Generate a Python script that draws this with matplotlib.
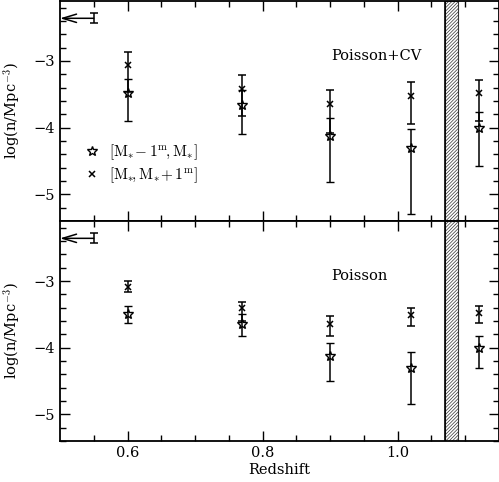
import numpy as np
import matplotlib
matplotlib.use('Agg')
import matplotlib.pyplot as plt
from matplotlib.lines import Line2D

plt.rcParams['font.family'] = 'DejaVu Serif'
plt.rcParams['mathtext.fontset'] = 'cm'
plt.rcParams['hatch.linewidth'] = 0.5

z = [0.6, 0.77, 0.9, 1.02, 1.12]

# top panel: Poisson + cosmic variance
cv_star = [-3.48, -3.66, -4.12, -4.30, -4.00]
cv_star_hi = [-3.27, -3.43, -3.86, -4.02, -3.76]
cv_star_lo = [-3.90, -4.09, -4.81, -5.29, -4.58]
cv_x = [-3.06, -3.42, -3.64, -3.52, -3.48]
cv_x_hi = [-2.86, -3.21, -3.43, -3.31, -3.28]
cv_x_lo = [-3.47, -3.83, -4.08, -3.94, -3.90]

# bottom panel: Poisson only
p_star = [-3.49, -3.65, -4.13, -4.31, -4.00]
p_star_hi = [-3.38, -3.50, -3.93, -4.07, -3.83]
p_star_lo = [-3.63, -3.83, -4.50, -4.84, -4.31]
p_x = [-3.09, -3.41, -3.64, -3.51, -3.48]
p_x_hi = [-3.00, -3.32, -3.52, -3.41, -3.38]
p_x_lo = [-3.16, -3.60, -3.83, -3.68, -3.63]

# reference bar with arrow at top left
ref_z = 0.55
ref_y = -2.36
ref_err = 0.075

band = (1.07, 1.09)

fig = plt.figure(figsize=(4.99, 4.82), dpi=100)
ax1 = fig.add_axes([0.1202, 0.5415, 0.8798, 0.4565])
ax2 = fig.add_axes([0.1202, 0.085, 0.8798, 0.4565])


def panel(ax, sv, shi, slo, xv, xhi, xlo, label):
    sv, shi, slo = np.array(sv), np.array(shi), np.array(slo)
    xv, xhi, xlo = np.array(xv), np.array(xhi), np.array(xlo)
    ax.axvspan(band[0], band[1], facecolor='white', edgecolor='#333333',
               hatch='//////////', lw=0.8, zorder=1)
    ax.axvline(band[0], color='black', lw=1.2, zorder=1)
    ax.errorbar(z, xv, yerr=[xv - xlo, xhi - xv], fmt='x', color='black',
                ms=5, mew=1.1, elinewidth=1.1, capsize=3, capthick=1.1, zorder=3)
    ax.errorbar(z, sv, yerr=[sv - slo, shi - sv], fmt='*', color='black',
                mfc='none', ms=7.5, mew=1.0, elinewidth=1.1, capsize=3,
                capthick=1.1, zorder=3)
    ax.errorbar([ref_z], [ref_y], yerr=ref_err, fmt='none', color='black',
                elinewidth=1.1, capsize=3, capthick=1.1)
    ax.annotate('', xy=(0.5, ref_y), xytext=(ref_z, ref_y),
                arrowprops=dict(arrowstyle='->,head_length=1.0,head_width=0.3',
                                color='black', lw=1.1, shrinkA=0, shrinkB=0))
    ax.text(0.901, -2.93, label, fontsize=10.5, ha='left', va='center')
    ax.set_xlim(0.5, 1.15)
    ax.set_ylim(-5.4, -2.1)
    ax.set_xticks([0.6, 0.8, 1.0])
    ax.set_xticks(np.arange(0.55, 1.15, 0.05), minor=True)
    ax.set_yticks([-5, -4, -3])
    ax.set_yticks(np.arange(-5.4, -2.1, 0.2), minor=True)
    ax.tick_params(which='both', direction='in', top=True, right=True,
                   labelsize=10.5)
    ax.tick_params(which='major', length=7, width=1)
    ax.tick_params(which='minor', length=4, width=1)
    ax.yaxis.set_major_formatter(matplotlib.ticker.FuncFormatter(
        lambda v, p: '\u2212%d' % abs(v)))
    ax.set_ylabel(r'log(n/Mpc$^{-3}$)', fontsize=10.5, labelpad=8)
    for s in ax.spines.values():
        s.set_linewidth(1.3)


panel(ax1, cv_star, cv_star_hi, cv_star_lo, cv_x, cv_x_hi, cv_x_lo, 'Poisson+CV')
panel(ax2, p_star, p_star_hi, p_star_lo, p_x, p_x_hi, p_x_lo, 'Poisson')

ax1.tick_params(labelbottom=False)
ax2.set_xlabel('Redshift', fontsize=10.5, labelpad=2)

handles = [Line2D([], [], ls='none', marker='*', mfc='none', mec='black', ms=7.5),
           Line2D([], [], ls='none', marker='x', color='black', ms=5, mew=1.1)]
labels = [r'$[\mathrm{M}_{*}\!-1^{\mathrm{m}}\!,\mathrm{M}_{*}]$',
          r'$[\mathrm{M}_{*}\!,\mathrm{M}_{*}\!+1^{\mathrm{m}}]$']
ax1.legend(handles, labels, loc='lower left', bbox_to_anchor=(0.025, 0.10),
           frameon=False, fontsize=11, handletextpad=0.6, handlelength=1.0,
           labelspacing=0.25)

fig.savefig('out.png', dpi=100)
